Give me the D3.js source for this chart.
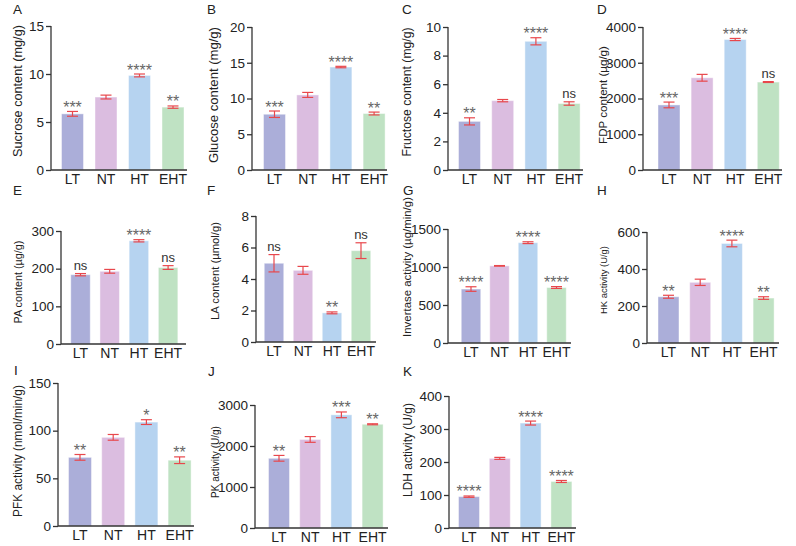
<!DOCTYPE html>
<html><head><meta charset="utf-8">
<script src="https://cdn.jsdelivr.net/npm/d3@7"></script>
<style>
body{margin:0;background:#fff;}
svg{display:block;font-family:"Liberation Sans",Arial,sans-serif;}
</style></head>
<body><svg id="c" width="796" height="546"></svg>
<script>
const groups = ["LT","NT","HT","EHT"];
const barColors = ["#abaed9","#dbbde0","#b6d3f0","#bfe2c3"];

const sucroseMean = [5.85, 7.6, 9.85, 6.55];
const sucroseErr  = [0.25, 0.2, 0.15, 0.12];
const sucroseSig  = ["***","","****","**"];
const sucroseTicks = [0,5,10,15];

const glucoseMean = [7.8, 10.5, 14.4, 7.9];
const glucoseErr  = [0.45, 0.35, 0.1, 0.2];
const glucoseSig  = ["***","","****","**"];
const glucoseTicks = [0,5,10,15,20];

const fructoseMean = [3.4, 4.85, 9.0, 4.65];
const fructoseErr  = [0.25, 0.08, 0.25, 0.12];
const fructoseSig  = ["**","","****","ns"];
const fructoseTicks = [0,2,4,6,8,10];

const fdpMean = [1820, 2580, 3650, 2460];
const fdpErr  = [80, 95, 30, 12];
const fdpSig  = ["***","","****","ns"];
const fdpTicks = [0,1000,2000,3000,4000];

const paMean = [184, 193, 274, 203];
const paErr  = [3, 5, 3, 5];
const paSig  = ["ns","","****","ns"];
const paTicks = [0,100,200,300];

const laMean = [5.0, 4.55, 1.85, 5.8];
const laErr  = [0.55, 0.25, 0.06, 0.5];
const laSig  = ["ns","","**","ns"];
const laTicks = [0,2,4,6,8];

const invMean = [710, 1015, 1320, 730];
const invErr  = [30, 4, 12, 12];
const invSig  = ["****","","****","****"];
const invTicks = [0,500,1000,1500];

const hkMean = [250, 328, 538, 243];
const hkErr  = [8, 17, 18, 7];
const hkSig  = ["**","","****","**"];
const hkTicks = [0,200,400,600];

const pfkMean = [72, 93, 109, 69];
const pfkErr  = [3, 3, 2.5, 3.5];
const pfkSig  = ["**","","*","**"];
const pfkTicks = [0,50,100,150];

const pkMean = [1700, 2160, 2760, 2530];
const pkErr  = [70, 70, 70, 12];
const pkSig  = ["**","","***","**"];
const pkTicks = [0,1000,2000,3000];

const ldhMean = [95, 211, 318, 141];
const ldhErr  = [2, 3, 6, 3];
const ldhSig  = ["****","","****","****"];
const ldhTicks = [0,100,200,300,400];

const panelLetters = ["A","B","C","D","E","F","G","H","I","J","K"];
const yTitles = ["Sucrose content (mg/g)","Glucose content (mg/g)","Fructose content (mg/g)","FDP content (\u00b5g/g)",
  "PA content (\u00b5g/g)","LA content (\u00b5mol/g)","Invertase  activity (\u00b5g/min/g)","HK activity (U/g)",
  "PFK activity (nmol/min/g)","PK activity (U/g)","LDH activity (U/g)"];

// layout: letter pos, y-axis x, top y, zero y, first center, step, bar width, x end, title x, title center y, title len
const layout = [
  {lx:13, ly:14, ax:51, top:26, bot:170, c0:72.5, step:33.5, bw:22, xe:187, tx:18, ty:91, tl:132},
  {lx:207,ly:14, ax:252,top:27, bot:170, c0:274.5,step:33.2, bw:22, xe:387, tx:213,ty:95, tl:136},
  {lx:402,ly:14, ax:448,top:27, bot:170, c0:469.5,step:33.2, bw:22, xe:583, tx:407,ty:92, tl:129},
  {lx:597,ly:14, ax:643,top:27, bot:170, c0:669, step:33.1, bw:22, xe:782, tx:603,ty:95, tl:98},
  {lx:13, ly:195,ax:61, top:231,bot:344, c0:80.5, step:29.2, bw:19.5,xe:186, tx:18, ty:282,tl:83},
  {lx:207,ly:195,ax:256,top:216,bot:342, c0:274, step:29, bw:19.5,xe:376, tx:215,ty:271,tl:98},
  {lx:403,ly:195,ax:448,top:229,bot:343, c0:471, step:28.5, bw:19.5,xe:571, tx:407,ty:267,tl:140},
  {lx:597,ly:195,ax:647,top:232,bot:343, c0:668.5,step:31.7, bw:21, xe:779, tx:603,ty:280,tl:68},
  {lx:14, ly:375,ax:58, top:383,bot:526, c0:80, step:33.2, bw:23, xe:194, tx:18, ty:451,tl:132},
  {lx:208,ly:376,ax:255,top:405,bot:528, c0:279, step:31.2, bw:21, xe:388, tx:215,ty:462,tl:72},
  {lx:403,ly:376,ax:449,top:396,bot:528, c0:469, step:30.8, bw:21, xe:576, tx:408,ty:450,tl:94}
];

const means = [sucroseMean,glucoseMean,fructoseMean,fdpMean,paMean,laMean,invMean,hkMean,pfkMean,pkMean,ldhMean];
const errs  = [sucroseErr,glucoseErr,fructoseErr,fdpErr,paErr,laErr,invErr,hkErr,pfkErr,pkErr,ldhErr];
const sigs  = [sucroseSig,glucoseSig,fructoseSig,fdpSig,paSig,laSig,invSig,hkSig,pfkSig,pkSig,ldhSig];
const ticks = [sucroseTicks,glucoseTicks,fructoseTicks,fdpTicks,paTicks,laTicks,invTicks,hkTicks,pfkTicks,pkTicks,ldhTicks];

const svg = d3.select("#c");
const axisColor = "#333";
const errColor = "#e8474c";

means.forEach((m, i) => {
  const L = layout[i];
  const g = svg.append("g");
  const tk = ticks[i];
  const y = d3.scaleLinear().domain([0, tk[tk.length-1]]).range([L.bot, L.top]);
  const p = 1 - L.bw / L.step;
  const x = d3.scaleBand().domain(groups)
    .range([L.c0 - L.step/2, L.c0 + L.step*3.5]).paddingInner(p).paddingOuter(p/2);

  g.append("text").attr("x", L.lx).attr("y", L.ly).attr("font-size", 13.5).attr("fill", "#222").text(panelLetters[i]);

  g.selectAll("rect.bar").data(groups).join("rect").attr("class","bar")
    .attr("x", d => x(d)).attr("width", x.bandwidth())
    .attr("y", (d,j) => y(m[j])).attr("height", (d,j) => y(0) - y(m[j]))
    .attr("fill", (d,j) => barColors[j])
    .attr("stroke", "#ffffff").attr("stroke-opacity", 0.45).attr("stroke-width", 1);

  const e = errs[i];
  const cw = 5.5;
  groups.forEach((d, j) => {
    const cx = x(d) + x.bandwidth()/2;
    const y1 = y(m[j] + e[j]), y0 = y(m[j] - e[j]);
    g.append("line").attr("x1", cx).attr("x2", cx).attr("y1", y1).attr("y2", y0)
      .attr("stroke", errColor).attr("stroke-width", 1.2);
    [y1, y0].forEach(yy => g.append("line").attr("x1", cx - cw).attr("x2", cx + cw)
      .attr("y1", yy).attr("y2", yy).attr("stroke", errColor).attr("stroke-width", 1.2));
    const s = sigs[i][j];
    if (s) {
      const isNs = s === "ns";
      g.append("text").attr("x", cx).attr("y", isNs ? y1 - 4 : y1 + 1.5)
        .attr("text-anchor", "middle")
        .attr("font-size", isNs ? 13 : 16)
        .attr("fill", isNs ? "#333" : "#666")
        .text(s);
    }
  });

  const ya = g.append("g").attr("transform", `translate(${L.ax},0)`)
    .call(d3.axisLeft(y).tickValues(tk).tickSize(5).tickSizeOuter(0).tickPadding(2).tickFormat(d3.format("d")));
  ya.select(".domain").attr("stroke", axisColor).attr("stroke-width", 1.3)
    .attr("d", `M0,${L.top}V${L.bot}`);
  ya.selectAll(".tick line").attr("stroke", axisColor).attr("stroke-width", 1.3);
  ya.selectAll(".tick text").attr("font-size", 13.5).attr("fill", "#222")
    .attr("font-family", "Liberation Sans, Arial, sans-serif");

  const xa = g.append("g").attr("transform", `translate(0,${L.bot})`)
    .call(d3.axisBottom(x).tickSize(0).tickPadding(4));
  xa.select(".domain").remove();
  xa.selectAll(".tick text").attr("font-size", 14).attr("fill", "#222")
    .attr("font-family", "Liberation Sans, Arial, sans-serif");
  g.append("line").attr("x1", L.ax).attr("x2", L.xe).attr("y1", L.bot).attr("y2", L.bot)
    .attr("stroke", axisColor).attr("stroke-width", 1.3);

  const t = g.append("text").attr("transform", `translate(${L.tx},${L.ty}) rotate(-90)`)
    .attr("text-anchor", "middle").attr("dominant-baseline", "central")
    .attr("font-size", 12).attr("fill", "#222").text(yTitles[i]);
  const len = t.node().getComputedTextLength();
  t.attr("font-size", 12 * L.tl / len);
});
</script></body></html>
